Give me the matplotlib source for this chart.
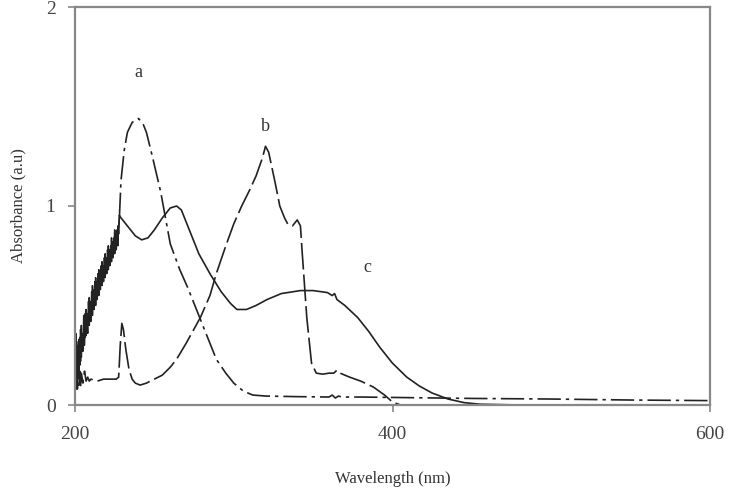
"""
UV-vis absorbance spectra a, b, c
"""
import numpy as np
import matplotlib.pyplot as plt

plt.rcParams['font.family'] = ['Liberation Serif', 'DejaVu Serif']

# noisy start of a and c, read every 0.5 nm from 200 to 228 nm
noise_nm = np.arange(200, 228.01, 0.5)
a_noise = [0.25, 0.12, 0.32, 0.18, 0.28, 0.16, 0.34, 0.22, 0.40, 0.28,
           0.36, 0.30, 0.44, 0.34, 0.48, 0.38, 0.46, 0.42, 0.54, 0.44,
           0.52, 0.47, 0.60, 0.50, 0.58, 0.52, 0.64, 0.55, 0.62, 0.58,
           0.68, 0.60, 0.66, 0.62, 0.72, 0.64, 0.70, 0.66, 0.76, 0.68,
           0.74, 0.70, 0.80, 0.72, 0.78, 0.74, 0.84, 0.76, 0.82, 0.78,
           0.88, 0.80, 0.86, 0.82, 0.90, 0.86, 0.95]
c_noise = [0.20, 0.36, 0.08, 0.30, 0.14, 0.33, 0.20, 0.38, 0.24, 0.34,
           0.27, 0.45, 0.30, 0.46, 0.35, 0.43, 0.36, 0.52, 0.40, 0.50,
           0.42, 0.57, 0.45, 0.55, 0.48, 0.62, 0.50, 0.60, 0.53, 0.66,
           0.55, 0.64, 0.58, 0.70, 0.60, 0.68, 0.62, 0.74, 0.64, 0.72,
           0.66, 0.78, 0.68, 0.75, 0.70, 0.80, 0.72, 0.78, 0.74, 0.84,
           0.76, 0.82, 0.78, 0.88, 0.80, 0.90, 0.95]

# curve a (dash-dot) after 228 nm
a_nm = [228, 229, 231, 233, 236, 240, 243, 245, 249, 254, 260, 266, 271, 279, 284, 289,
        295, 300, 306, 312, 320, 340, 360, 362, 364, 366, 368, 380, 400, 450, 500, 550, 600]
a_abs = [0.95, 1.13, 1.28, 1.37, 1.42, 1.44, 1.41, 1.37, 1.24, 1.07, 0.81, 0.68, 0.59, 0.43, 0.33,
         0.23, 0.16, 0.11, 0.07, 0.05, 0.045, 0.042, 0.04, 0.05, 0.035, 0.045, 0.04, 0.04, 0.038,
         0.033, 0.03, 0.025, 0.022]

# curve b (long dash)
b_nm = [200, 200.5, 201, 201.5, 202, 202.5, 203, 203.5, 204, 205, 206, 207, 208, 209, 210, 214,
        218, 222, 226, 227.5, 228.5, 229.5, 230.5, 232, 234, 236, 238, 241, 245, 250, 255, 260,
        264, 270, 279, 285, 289, 295, 300, 305, 310, 314, 318, 320, 322, 326, 329, 332, 334,
        337, 340, 342, 343, 346, 349, 352, 356, 360, 363, 365, 367, 373, 380, 388, 395, 400, 405]
b_abs = [0.34, 0.10, 0.26, 0.08, 0.20, 0.10, 0.17, 0.09, 0.16, 0.11, 0.17, 0.12, 0.14, 0.12,
         0.13, 0.12, 0.13, 0.13, 0.13, 0.14, 0.30, 0.41, 0.38, 0.28, 0.18, 0.13, 0.11, 0.10,
         0.11, 0.13, 0.15, 0.19, 0.23, 0.31, 0.44, 0.55, 0.66, 0.80, 0.91, 1.00, 1.08, 1.15,
         1.24, 1.30, 1.27, 1.12, 1.00, 0.94, 0.91, 0.90, 0.93, 0.90, 0.78, 0.44, 0.21, 0.16,
         0.155, 0.16, 0.16, 0.175, 0.16, 0.14, 0.12, 0.09, 0.05, 0.015, 0.0]

# curve c (solid) after 228 nm
c_nm = [228, 230, 234, 238, 242, 246, 250, 255, 260, 264, 267, 272, 278, 285, 292, 298,
        302, 308, 314, 321, 330, 342, 350, 359, 362, 363.5, 365, 370, 378, 385, 392, 400,
        409, 417, 425, 435, 445, 455, 480, 520, 600]
c_abs = [0.95, 0.93, 0.89, 0.85, 0.83, 0.84, 0.88, 0.94, 0.99, 1.00, 0.98, 0.88, 0.76,
         0.66, 0.57, 0.51, 0.48, 0.48, 0.50, 0.53, 0.56, 0.575, 0.575, 0.565, 0.55, 0.56,
         0.53, 0.50, 0.44, 0.37, 0.29, 0.21, 0.14, 0.095, 0.06, 0.03, 0.012, 0.004, 0.0,
         0.0, 0.0]

curve_labels = ['a', 'b', 'c']
label_pos = [(240, 1.67), (320, 1.40), (384, 0.69)]

fig = plt.figure(figsize=(7.32, 4.88), dpi=100)
ax = fig.add_axes([75 / 732, 1 - 405 / 488, 635 / 732, 398 / 488])

line_col = '#222222'
ax.plot(noise_nm, a_noise, color=line_col, lw=1.1)
ax.plot(noise_nm, c_noise, color=line_col, lw=1.1)
ax.plot(a_nm, a_abs, color=line_col, lw=1.2, linestyle=(0, (14, 3, 2, 3)))
ax.plot(b_nm, b_abs, color=line_col, lw=1.2, linestyle=(0, (16, 3)))
ax.plot(c_nm, c_abs, color=line_col, lw=1.2)

for lab, (x, y) in zip(curve_labels, label_pos):
    ax.text(x, y, lab, ha='center', va='center', fontsize=13, color='#333333')

ax.set_xlim(200, 600)
ax.set_ylim(0, 2)
ax.set_xticks([200, 400, 600])
ax.set_yticks([0, 1, 2])

frame_col = '#888888'
for sp in ax.spines.values():
    sp.set_color(frame_col)
    sp.set_linewidth(1.6)
ax.tick_params(colors=frame_col, labelcolor='#444444', labelsize=14, length=5, width=1.2)
ax.tick_params(axis='x', pad=10)
ax.tick_params(axis='y', pad=9)

ax.set_xlabel('Wavelength (nm)', fontsize=12, color='#333333', labelpad=20)
ax.set_ylabel('Absorbance (a.u)', fontsize=12, color='#333333', labelpad=14)

fig.savefig('out.png', dpi=100)
